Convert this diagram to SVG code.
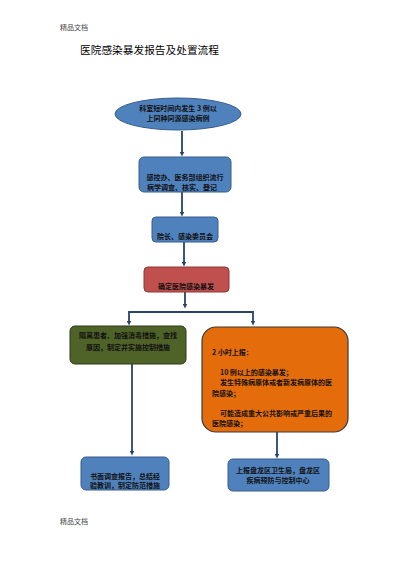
<svg xmlns="http://www.w3.org/2000/svg" width="400" height="565" viewBox="0 0 400 565">
<defs>
<style>
text{font-family:"Noto Sans CJK SC","Liberation Sans",sans-serif;fill:#111}
.hdr{font-size:7px;fill:#444}
.ttl{font-size:10.7px;fill:#000}
.t{font-size:7px;font-weight:bold}
.blue{fill:#4f81bd;stroke:#385d8a;stroke-width:1}
.red{fill:#c0504d;stroke:#8c3836;stroke-width:1}
.green{fill:#4f6228;stroke:#2c3816;stroke-width:1}
.orange{fill:#e46c0a;stroke:#3a3a3a;stroke-width:1.2}
.c{fill:none;stroke:#2a4468;stroke-width:1.8}
</style>
<marker id="ah" markerWidth="5" markerHeight="5" refX="2.5" refY="2.5" orient="auto" markerUnits="userSpaceOnUse">
<path d="M0,0 L5,2.5 L0,5 Z" fill="#2a4468"/>
</marker>
</defs>
<rect width="400" height="565" fill="#fff"/>
<text class="hdr" x="60" y="30">精品文档</text>
<text class="ttl" x="80" y="54">医院感染暴发报告及处置流程</text>
<text class="hdr" x="60" y="524">精品文档</text>

<g id="connectors">
<path class="c" d="M182,131 V154" marker-end="url(#ah)"/>
<path class="c" d="M182,192 V214" marker-end="url(#ah)"/>
<path class="c" d="M184,242 V264" marker-end="url(#ah)"/>
<path class="c" d="M185,292 V306" marker-end="url(#ah)"/>
<path class="c" d="M185,312 H129 V323" marker-end="url(#ah)"/>
<path class="c" d="M185,312 H253 V323" marker-end="url(#ah)"/>
<path class="c" d="M132,364 V453" marker-end="url(#ah)"/>
<path class="c" d="M277,432 V456" marker-end="url(#ah)"/>
</g>

<g id="n1">
<ellipse class="blue" cx="178" cy="114" rx="63" ry="16"/>
<text class="t" x="178" y="111" text-anchor="middle">科室短时间内发生 3 例以</text>
<text class="t" x="178" y="121" text-anchor="middle">上同种同源感染病例</text>
</g>
<g id="n2">
<rect class="blue" x="139" y="157" width="92" height="35" rx="5"/>
<text class="t" x="185" y="180" text-anchor="middle">感控办、医务部组织流行</text>
<text class="t" x="182" y="190" text-anchor="middle">病学调查、核实、登记</text>
</g>
<g id="n3">
<rect class="blue" x="152" y="217" width="66" height="25" rx="4"/>
<text class="t" x="185" y="239" text-anchor="middle">院长、感染委员会</text>
</g>
<g id="n4">
<rect class="red" x="144" y="267" width="85" height="25" rx="4"/>
<text class="t" x="186" y="289" text-anchor="middle">确定医院感染暴发</text>
</g>
<g id="n5">
<rect class="green" x="70" y="326" width="116" height="38" rx="5"/>
<text class="t" x="128" y="338" text-anchor="middle">隔离患者、加强消毒措施，查找</text>
<text class="t" x="128" y="350" text-anchor="middle">原因，制定并实施控制措施</text>
</g>
<g id="n6">
<rect class="orange" x="202" y="327" width="146" height="105" rx="14"/>
<text class="t" x="212" y="355">2 小时上报：</text>
<text class="t" x="220" y="375">10 例以上的感染暴发；</text>
<text class="t" x="220" y="385">发生特殊病原体或者新发病原体的医</text>
<text class="t" x="212" y="396">院感染；</text>
<text class="t" x="220" y="416">可能造成重大公共影响或严重后果的</text>
<text class="t" x="212" y="426">医院感染；</text>
</g>
<g id="n7">
<rect class="blue" x="81" y="457" width="88" height="33" rx="5"/>
<text class="t" x="125" y="479" text-anchor="middle">书面调查报告，总结经</text>
<text class="t" x="125" y="488" text-anchor="middle">验教训，制定防范措施</text>
</g>
<g id="n8">
<rect class="blue" x="228" y="459" width="101" height="32" rx="5"/>
<text class="t" x="278" y="473" text-anchor="middle">上报盘龙区卫生局，盘龙区</text>
<text class="t" x="278" y="483" text-anchor="middle">疾病预防与控制中心</text>
</g>
</svg>
